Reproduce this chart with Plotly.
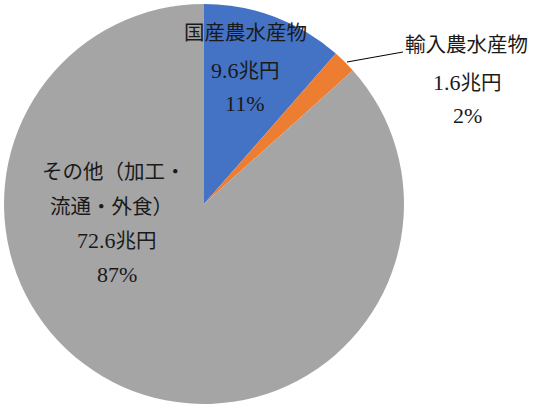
import plotly.graph_objects as go

categories = ["国産農水産物", "輸入農水産物", "その他（加工・流通・外食）"]
values = [9.6, 1.6, 72.6]  # 兆円
colors = ["#4472C4", "#ED7D31", "#A5A5A5"]
unit = "兆円"

W, H = 534, 409
total = sum(values)
pcts = [round(v / total * 100) for v in values]

fig = go.Figure(go.Pie(
    labels=categories, values=values, sort=False, direction="clockwise",
    rotation=0, textinfo="none", hoverinfo="label+value+percent",
    marker=dict(colors=colors, line=dict(width=0)),
    domain=dict(x=[4 / W, 404 / W], y=[1 - 404 / H, 1 - 4 / H]),
    showlegend=False,
))

FONT = "Liberation Serif, Noto Sans CJK JP, serif"

def px(x, y):
    return x / W, 1 - y / H

def val_text(v):
    return f"{v}<span style='font-size:20.5px'>{unit}</span>"

label_lines = [
    ([categories[0], val_text(values[0]), f"{pcts[0]}%"], [(245, 33), (245, 71), (245, 103)]),
    ([categories[1], val_text(values[1]), f"{pcts[1]}%"], [(466, 45), (467, 82), (467, 115)]),
    (["その他（加工・", "流通・外食）", val_text(values[2]), f"{pcts[2]}%"],
     [(114, 172), (111, 207), (117, 240), (117, 274)]),
]

annotations = []
for texts, positions in label_lines:
    for t, (x, y) in zip(texts, positions):
        xp, yp = px(x, y)
        size = 22 if t[0].isdigit() else 20.5
        annotations.append(dict(
            x=xp, y=yp, xref="paper", yref="paper", text=t, showarrow=False,
            xanchor="center", yanchor="middle",
            font=dict(family=FONT, size=size, color="#1a1a1a"),
        ))

x0, y0 = px(347, 62)
x1, y1 = px(403, 52)
fig.add_shape(type="line", xref="paper", yref="paper", x0=x0, y0=y0, x1=x1, y1=y1,
              line=dict(color="#000000", width=1))

fig.update_layout(
    width=W, height=H, margin=dict(l=0, r=0, t=0, b=0),
    paper_bgcolor="white", plot_bgcolor="white",
    annotations=annotations,
)

fig.write_html("out.html", config={"displayModeBar": False},
               post_script="document.body.style.margin='0';document.body.style.overflow='hidden';")
